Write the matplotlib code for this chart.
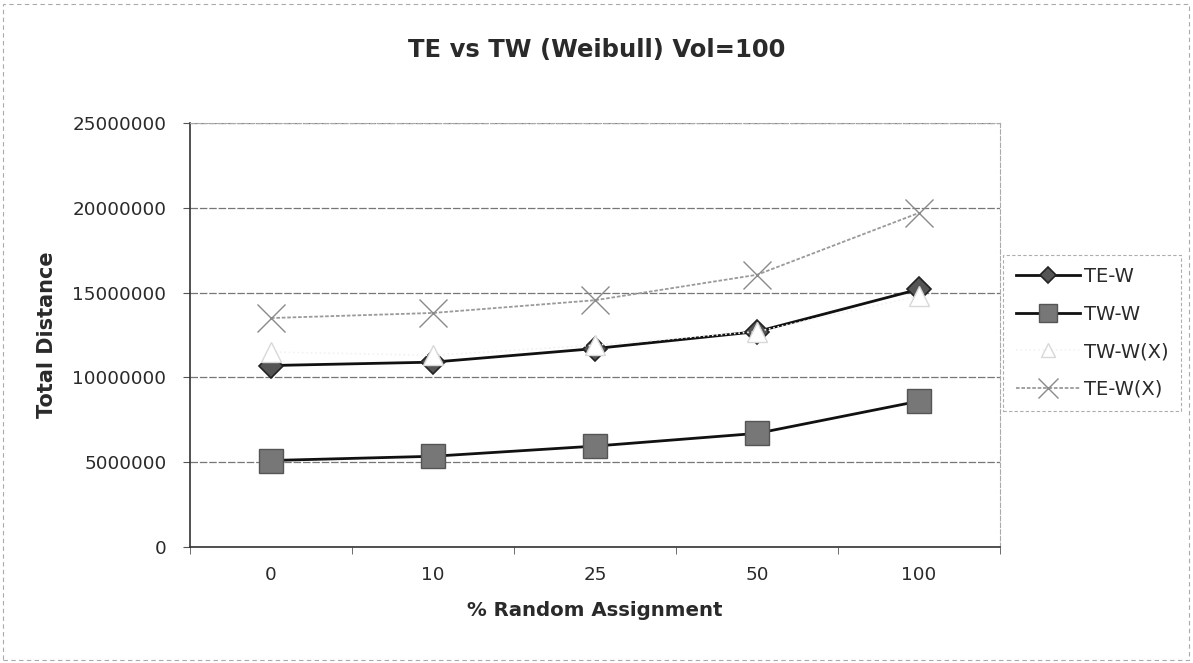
import matplotlib
matplotlib.use("Agg")
import matplotlib.pyplot as plt
from matplotlib.patches import Rectangle

plt.rcParams['font.family'] = ['DejaVu Sans']

categories = ["0", "10", "25", "50", "100"]
te_w = [10700000, 10900000, 11700000, 12700000, 15200000]
tw_w = [5100000, 5350000, 5950000, 6700000, 8600000]
tw_w_x = [11500000, 11300000, 11900000, 12700000, 14800000]
te_w_x = [13500000, 13800000, 14550000, 16050000, 19700000]
yticks = [0, 5000000, 10000000, 15000000, 20000000, 25000000]

fig = plt.figure(figsize=(11.93, 6.63), dpi=100)
ax = fig.add_axes([190/1193, 1-547/663, 810/1193, (547-123)/663])
x = list(range(len(categories)))

ax.plot(x, tw_w_x, color='#f2f2f2', lw=1.2, ls=':', marker='^', ms=15,
        mfc='white', mec='#d8d8d8', mew=1.0, label='TW-W(X)', zorder=4)
ax.plot(x, te_w, color='#111111', lw=2.0, marker='D', ms=12,
        mfc='#555555', mec='#222222', mew=1.2, label='TE-W', zorder=3)
ax.plot(x, tw_w, color='#111111', lw=2.0, marker='s', ms=17.5,
        mfc='#777777', mec='#555555', mew=1.0, label='TW-W', zorder=3)
ax.plot(x, te_w_x, color='#9a9a9a', lw=1.3, ls=(0, (2, 1)), marker='x', ms=20,
        mec='#8a8a8a', mew=1.0, label='TE-W(X)', zorder=3)

ax.set_xlim(-0.5, 4.5)
ax.set_ylim(0, 25000000)
ax.set_yticks(yticks)
ax.set_yticklabels([str(v) for v in yticks], fontsize=13.2, color='#2a2a2a')
ax.set_xticks(x)
ax.set_xticklabels(categories, fontsize=13.2, color='#2a2a2a')
ax.tick_params(axis='x', length=0, pad=14)
ax.set_xticks([i - 0.5 for i in range(6)], minor=True)
ax.tick_params(axis='x', which='minor', length=5, color='#555555')
ax.tick_params(axis='y', length=5, color='#555555', pad=12)
ax.grid(axis='y', color='#777777', lw=0.9, ls=(0, (6, 1.5)))
for s in ['top', 'right']:
    ax.spines[s].set_color('#aaaaaa')
    ax.spines[s].set_linestyle((0, (4, 2)))
    ax.spines[s].set_linewidth(0.8)
for s in ['left', 'bottom']:
    ax.spines[s].set_color('#333333')
    ax.spines[s].set_linewidth(1.2)

ax.set_xlabel('% Random Assignment', fontsize=14.2, fontweight='bold',
              color='#2a2a2a')
ax.xaxis.set_label_coords(0.5, -(610-547)/424, transform=ax.transAxes)
ax.xaxis.label.set_va('center')
ax.set_ylabel('Total Distance', fontsize=15, fontweight='bold',
              color='#2a2a2a')
ax.yaxis.set_label_coords(-(190-47)/810, 0.5, transform=ax.transAxes)
ax.yaxis.label.set_va('center')
fig.text(0.5, 1-50/663, 'TE vs TW (Weibull) Vol=100', ha='center', va='center',
         fontsize=17.5, fontweight='bold', color='#2a2a2a')

h, l = ax.get_legend_handles_labels()
order = [l.index(n) for n in ['TE-W', 'TW-W', 'TW-W(X)', 'TE-W(X)']]
leg = fig.legend([h[i] for i in order], [l[i] for i in order],
                 loc='center left', bbox_to_anchor=(1003/1193, 1-333/663),
                 fontsize=14, frameon=True, fancybox=False, markerscale=0.7,
                 handlelength=3.3, labelspacing=0.95, borderpad=0.65,
                 handletextpad=0.2, borderaxespad=0)
for t in leg.get_texts():
    t.set_color('#2a2a2a')
leg.get_frame().set_edgecolor('#999999')
leg.get_frame().set_linestyle((0, (3, 2)))
leg.get_frame().set_linewidth(0.8)

fig.patches.append(Rectangle((3/1193, 3/663), 1-7/1193, 1-7/663,
                             transform=fig.transFigure, fill=False,
                             ec='#aaaaaa', lw=0.8, ls=(0, (4, 3))))

fig.savefig('out.png', dpi=100)
